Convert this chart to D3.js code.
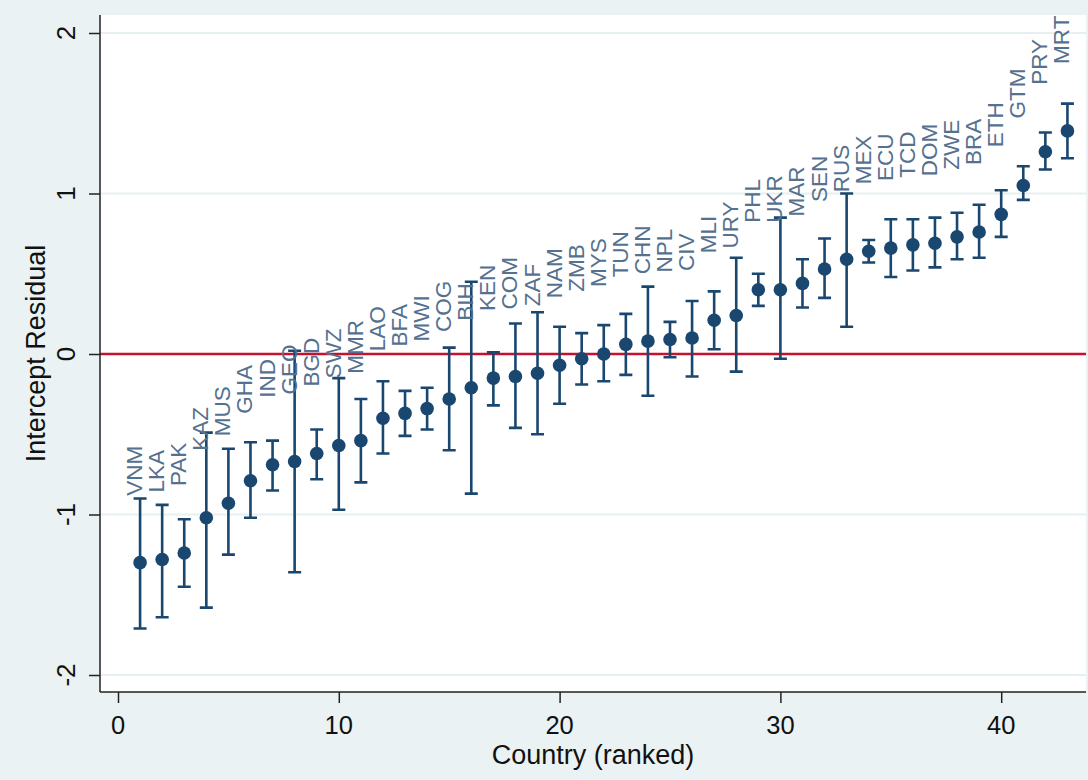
<!DOCTYPE html>
<html>
<head>
<meta charset="utf-8">
<script src="https://cdn.jsdelivr.net/npm/d3@7"></script>
<style>
  html, body { margin: 0; padding: 0; background: #eaf2f3; }
  svg { display: block; font-family: "Liberation Sans", Arial, sans-serif; }
</style>
</head>
<body>
<div id="chart"></div>
<script>
// countries in rank order, with estimate and CI bounds
const countries = ["VNM","LKA","PAK","KAZ","MUS","GHA","IND","GEO","BGD","SWZ",
  "MMR","LAO","BFA","MWI","COG","BIH","KEN","COM","ZAF","NAM",
  "ZMB","MYS","TUN","CHN","NPL","CIV","MLI","URY","PHL","UKR",
  "MAR","SEN","RUS","MEX","ECU","TCD","DOM","ZWE","BRA","ETH",
  "GTM","PRY","MRT"];
const estimate = [-1.30,-1.28,-1.24,-1.02,-0.93,-0.79,-0.69,-0.67,-0.62,-0.57,
  -0.54,-0.40,-0.37,-0.34,-0.28,-0.21,-0.15,-0.14,-0.12,-0.07,
  -0.03,0.00,0.06,0.08,0.09,0.10,0.21,0.24,0.40,0.40,
  0.44,0.53,0.59,0.64,0.66,0.68,0.69,0.73,0.76,0.87,
  1.05,1.26,1.39];
const lower = [-1.71,-1.64,-1.45,-1.58,-1.25,-1.02,-0.85,-1.36,-0.78,-0.97,
  -0.80,-0.62,-0.51,-0.47,-0.60,-0.87,-0.32,-0.46,-0.50,-0.31,
  -0.19,-0.17,-0.13,-0.26,-0.02,-0.14,0.03,-0.11,0.30,-0.03,
  0.29,0.35,0.17,0.57,0.48,0.52,0.54,0.59,0.60,0.73,
  0.96,1.15,1.22];
const upper = [-0.90,-0.94,-1.03,-0.49,-0.59,-0.55,-0.54,0.02,-0.47,-0.15,
  -0.28,-0.17,-0.23,-0.21,0.04,0.45,0.01,0.19,0.26,0.17,
  0.13,0.18,0.25,0.42,0.20,0.33,0.39,0.60,0.50,0.85,
  0.59,0.72,1.00,0.71,0.84,0.84,0.85,0.88,0.93,1.02,
  1.17,1.38,1.56];
const xTicks = [0, 10, 20, 30, 40];
const yTicks = [-2, -1, 0, 1, 2];

const width = 1088, height = 780;
const plot = { left: 100, right: 1086, top: 15, bottom: 692 };
const navy = "#1a476f";

const data = countries.map((c, i) => ({
  rank: i + 1, code: c, est: estimate[i], lo: lower[i], hi: upper[i]
}));

const x = d3.scaleLinear().domain([0, 43]).range([118, 118 + 43 * 22.08]);
const y = d3.scaleLinear().domain([-2, 2]).range([675, 33]);

const svg = d3.select("#chart").append("svg")
  .attr("width", width).attr("height", height);

svg.append("rect").attr("width", width).attr("height", height).attr("fill", "#eaf2f3");
svg.append("rect")
  .attr("x", plot.left).attr("y", plot.top)
  .attr("width", plot.right - plot.left).attr("height", plot.bottom - plot.top)
  .attr("fill", "#fff");

// gridlines
svg.selectAll(".grid").data(yTicks).enter().append("line")
  .attr("x1", plot.left).attr("x2", plot.right)
  .attr("y1", d => y(d)).attr("y2", d => y(d))
  .attr("stroke", "#e6eff1").attr("stroke-width", 2);

// reference line at zero
svg.append("line")
  .attr("x1", plot.left).attr("x2", plot.right)
  .attr("y1", y(0)).attr("y2", y(0))
  .attr("stroke", "#c8102e").attr("stroke-width", 2.5);

// y axis
const yAxis = svg.append("g").attr("transform", `translate(${plot.left},0)`)
  .call(d3.axisLeft(y).tickValues(yTicks).tickSize(11).tickFormat(""));
yAxis.select(".domain").attr("d", `M0,${plot.top}V${plot.bottom}`)
  .attr("stroke", "#222").attr("stroke-width", 1.5);
yAxis.selectAll(".tick line").attr("stroke", "#222").attr("stroke-width", 1.5);

svg.selectAll(".ylab").data(yTicks).enter().append("text")
  .attr("transform", d => `translate(75,${y(d)}) rotate(-90)`)
  .attr("text-anchor", "middle")
  .attr("font-size", 26)
  .attr("fill", "#111")
  .text(d => d);

// x axis
const xAxis = svg.append("g").attr("transform", `translate(0,${plot.bottom})`)
  .call(d3.axisBottom(x).tickValues(xTicks).tickSize(11).tickFormat(""));
xAxis.select(".domain").attr("d", `M${plot.left},0H${plot.right}`)
  .attr("stroke", "#222").attr("stroke-width", 1.5);
xAxis.selectAll(".tick line").attr("stroke", "#222").attr("stroke-width", 1.5);

svg.selectAll(".xlab").data(xTicks).enter().append("text")
  .attr("x", d => x(d)).attr("y", 734)
  .attr("text-anchor", "middle")
  .attr("font-size", 25.5)
  .attr("fill", "#111")
  .text(d => d);

// axis titles
svg.append("text")
  .attr("x", (plot.left + plot.right) / 2).attr("y", 764)
  .attr("text-anchor", "middle").attr("font-size", 27).attr("fill", "#111")
  .text("Country (ranked)");
svg.append("text")
  .attr("transform", `translate(45,${(plot.top + plot.bottom) / 2}) rotate(-90)`)
  .attr("text-anchor", "middle").attr("font-size", 27).attr("fill", "#111")
  .text("Intercept Residual");

// error bars
const bars = svg.append("g").attr("stroke", navy).attr("stroke-width", 2.6).attr("fill", "none");
bars.selectAll(".ci").data(data).enter().append("path")
  .attr("d", d => {
    const cx = x(d.rank), cap = 6.5;
    return `M${cx},${y(d.lo)}V${y(d.hi)}` +
      `M${cx - cap},${y(d.lo)}H${cx + cap}` +
      `M${cx - cap},${y(d.hi)}H${cx + cap}`;
  });

// markers
svg.selectAll(".pt").data(data).enter().append("circle")
  .attr("cx", d => x(d.rank)).attr("cy", d => y(d.est))
  .attr("r", 6.8).attr("fill", navy);

// country labels
svg.selectAll(".lab").data(data).enter().append("text")
  .attr("transform", d => `translate(${x(d.rank) + 2},${y(d.est) - 67}) rotate(-90)`)
  .attr("text-anchor", "start")
  .attr("font-size", 22.5)
  .attr("fill", "#557190")
  .text(d => d.code);
</script>
</body>
</html>
